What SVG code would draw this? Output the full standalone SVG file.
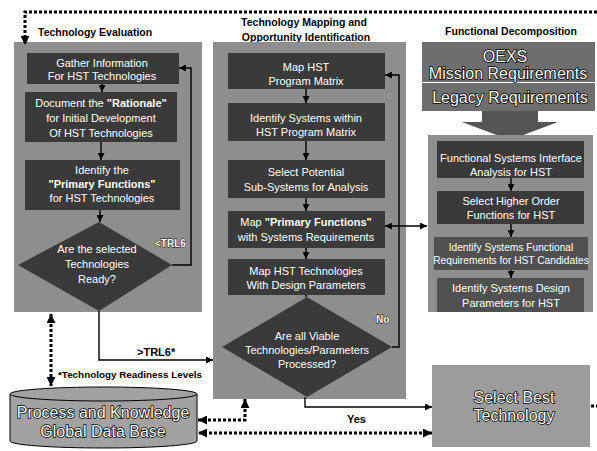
<svg xmlns="http://www.w3.org/2000/svg" width="597" height="451" viewBox="0 0 597 451">
<style>
.title{font-family:"Liberation Sans",Arial,sans-serif;font-weight:bold;font-size:10.5px;fill:#000}
.panel{fill:#8e8e8e}
.box{fill:#3a3a3a}
.boxm{fill:#505050}
.bt{font-family:"Liberation Sans",Arial,sans-serif;font-size:11px;fill:#fff;text-anchor:middle}
.sm{font-size:10.2px}
.bb{font-weight:bold}
.big{font-family:"Liberation Sans",Arial,sans-serif;font-size:16px;fill:#fff;stroke:#000;stroke-width:1.5;paint-order:stroke;text-anchor:middle}
.lbl{font-family:"Liberation Sans",Arial,sans-serif;font-weight:bold;font-size:11px;fill:#000}
.note{font-size:9.5px}
.wl{font-family:"Liberation Sans",Arial,sans-serif;font-weight:bold;font-size:10px;fill:#fff;stroke:#000;stroke-width:0.8;paint-order:stroke}
.ln{stroke:#000;stroke-width:1.4;fill:none}
.dot{stroke:#000;stroke-width:3;stroke-dasharray:3 2;fill:none}
</style>
<defs>
<marker id="ah" viewBox="0 0 10 10" refX="10" refY="5" markerWidth="7" markerHeight="7" markerUnits="userSpaceOnUse" orient="auto-start-reverse"><path d="M0,0 L10,5 L0,10 z" fill="#000"/></marker>
<marker id="ahd" viewBox="0 0 10 10" refX="10" refY="5" markerWidth="9" markerHeight="9" markerUnits="userSpaceOnUse" orient="auto-start-reverse"><path d="M0,0 L10,5 L0,10 z" fill="#000"/></marker>
</defs>

<!-- Titles -->
<text class="title" x="38" y="36">Technology Evaluation</text>
<text class="title" x="304" y="26" text-anchor="middle">Technology Mapping and</text>
<text class="title" x="306" y="41" text-anchor="middle">Opportunity Identification</text>
<text class="title" x="511" y="35" text-anchor="middle">Functional Decomposition</text>

<!-- Left panel -->
<g id="panel-eval">
<rect class="panel" x="14" y="42" width="188" height="270"/>
</g>
<g id="gather">
<rect class="box" x="27" y="53" width="152" height="31"/>
<text class="bt" x="102" y="67">Gather Information</text>
<text class="bt" x="102" y="80">For HST Technologies</text>
</g>
<g id="document">
<rect class="box" x="25" y="92" width="152" height="50"/>
<text class="bt" x="101" y="107">Document the <tspan class="bb">"Rationale"</tspan></text>
<text class="bt" x="101" y="122">for Initial Development</text>
<text class="bt" x="101" y="137">Of HST Technologies</text>
</g>
<g id="identify-pf">
<rect class="box" x="25" y="160" width="155" height="50"/>
<text class="bt" x="102" y="174">Identify the</text>
<text class="bt bb" x="102" y="188">"Primary Functions"</text>
<text class="bt" x="102" y="202">for HST Technologies</text>
</g>
<g id="ready">
<polygon class="box" points="99,222 172,265 99,311 18,265"/>
<text class="bt" x="97" y="253">Are the selected</text>
<text class="bt" x="97" y="268">Technologies</text>
<text class="bt" x="97" y="283">Ready?</text>
</g>

<!-- Middle panel -->
<g id="panel-map">
<rect class="panel" x="213" y="42" width="193" height="357"/>
</g>
<g id="map-matrix">
<rect class="box" x="228" y="53" width="157" height="36"/>
<text class="bt" x="306" y="71">Map HST</text>
<text class="bt" x="306" y="85">Program Matrix</text>
</g>
<g id="identify-systems">
<rect class="box" x="228" y="103" width="157" height="38"/>
<text class="bt" x="306" y="122">Identify Systems within</text>
<text class="bt" x="306" y="136">HST Program Matrix</text>
</g>
<g id="select-sub">
<rect class="box" x="228" y="160" width="157" height="38"/>
<text class="bt" x="306" y="176">Select Potential</text>
<text class="bt" x="306" y="191">Sub-Systems for Analysis</text>
</g>
<g id="map-pf">
<rect class="box" x="228" y="211" width="157" height="37"/>
<text class="bt" x="306" y="226">Map <tspan class="bb">"Primary Functions"</tspan></text>
<text class="bt" x="306" y="241">with Systems Requirements</text>
</g>
<g id="map-tech">
<rect class="box" x="228" y="259" width="157" height="36"/>
<text class="bt" x="306" y="275">Map HST Technologies</text>
<text class="bt" x="306" y="289">With Design Parameters</text>
</g>
<g id="processed">
<polygon class="box" points="307,297 392,347 307,397 222,347"/>
<text class="bt" x="307" y="340">Are all Viable</text>
<text class="bt" x="307" y="354">Technologies/Parameters</text>
<text class="bt" x="307" y="368">Processed?</text>
</g>

<!-- Right column -->
<g id="oexs">
<rect fill="#6e6e6e" x="422" y="42" width="173" height="40"/>
<text class="big" x="505" y="62">OEXS</text>
<text class="big" x="508" y="79">Mission Requirements</text>
</g>
<g id="legacy">
<rect fill="#6e6e6e" x="422" y="83" width="173" height="28"/>
<text class="big" x="510" y="103">Legacy Requirements</text>
</g>
<g id="block-arrow">
<polygon fill="#555" points="482,111 538,111 538,122 558,122 510,140 462,122 482,122"/>
</g>
<g id="panel-func">
<rect class="panel" x="428" y="135" width="165" height="177"/>
</g>
<g id="interface">
<rect class="box" x="437" y="141" width="147" height="37"/>
<text class="bt" x="511" y="162">Functional Systems Interface</text>
<text class="bt" x="511" y="176">Analysis for HST</text>
</g>
<g id="higher-order">
<rect class="box" x="437" y="191" width="147" height="33"/>
<text class="bt" x="511" y="205">Select Higher Order</text>
<text class="bt" x="511" y="219">Functions for HST</text>
</g>
<g id="func-req">
<rect class="boxm" x="434" y="237" width="154" height="33"/>
<text class="bt sm" x="511" y="251">Identify Systems Functional</text>
<text class="bt sm" x="511" y="264">Requirements for HST Candidates</text>
</g>
<g id="design-param">
<rect class="boxm" x="437" y="278" width="147" height="34"/>
<text class="bt" x="511" y="292">Identify Systems Design</text>
<text class="bt" x="511" y="307">Parameters for HST</text>
</g>
<g id="select-best">
<rect fill="#9c9c9c" x="432" y="365" width="158" height="82"/>
<text class="big" x="514" y="403">Select Best</text>
<text class="big" x="514" y="421">Technology</text>
</g>
<g id="database">
<path d="M10,394 A93.5,7 0 0,1 197,394 V441 A93.5,7 0 0,1 10,441 Z" fill="#a2a2a2" stroke="#000" stroke-width="1"/>
<path d="M10,394 A93.5,7 0 0,0 197,394" fill="none" stroke="#000" stroke-width="1"/>
<text class="big" x="103" y="418">Process and Knowledge</text>
<text class="big" x="103" y="437">Global Data Base</text>
</g>

<!-- Connectors -->
<g id="connectors">
<path class="ln" d="M102,84 V92" marker-end="url(#ah)"/>
<path class="ln" d="M101,142 V160" marker-end="url(#ah)"/>
<path class="ln" d="M100,210 V222" marker-end="url(#ah)"/>
<path class="ln" d="M172,265 H191 V68 H179" marker-end="url(#ah)"/>
<path class="ln" d="M99,311 V360 H213" marker-end="url(#ah)"/>
<path class="ln" d="M306,89 V103" marker-end="url(#ah)"/>
<path class="ln" d="M306,141 V160" marker-end="url(#ah)"/>
<path class="ln" d="M306,198 V211" marker-end="url(#ah)"/>
<path class="ln" d="M306,248 V259" marker-end="url(#ah)"/>
<path class="ln" d="M306,295 V297"/>
<path class="ln" d="M392,347 H399 V75 H385" marker-end="url(#ah)"/>
<path class="ln" d="M305,397 V407 H432" marker-end="url(#ah)"/>
<path class="ln" d="M385,226 H427" marker-start="url(#ah)" marker-end="url(#ah)"/>
<path class="ln" d="M511,178 V191" marker-end="url(#ah)"/>
<path class="ln" d="M511,224 V237" marker-end="url(#ah)"/>
<path class="ln" d="M511,270 V278" marker-end="url(#ah)"/>
<path class="dot" d="M597,12 H25 V45" marker-end="url(#ahd)"/>
<path class="dot" d="M51,314 V386" marker-start="url(#ahd)" marker-end="url(#ahd)"/>
<path class="dot" d="M245,399 V420 H198" marker-start="url(#ahd)" marker-end="url(#ahd)"/>
<path class="dot" d="M432,433 H198" marker-start="url(#ahd)" marker-end="url(#ahd)"/>
<path class="dot" d="M591,406 H597"/>
</g>

<!-- Labels -->
<text class="wl" x="155" y="247">&lt;TRL6</text>
<text class="wl" x="376" y="323">No</text>
<text class="lbl" x="137" y="356">&gt;TRL6*</text>
<text class="lbl note" x="58" y="378" textLength="144" lengthAdjust="spacingAndGlyphs">*Technology Readiness Levels</text>
<text class="lbl" x="347" y="423">Yes</text>
</svg>
